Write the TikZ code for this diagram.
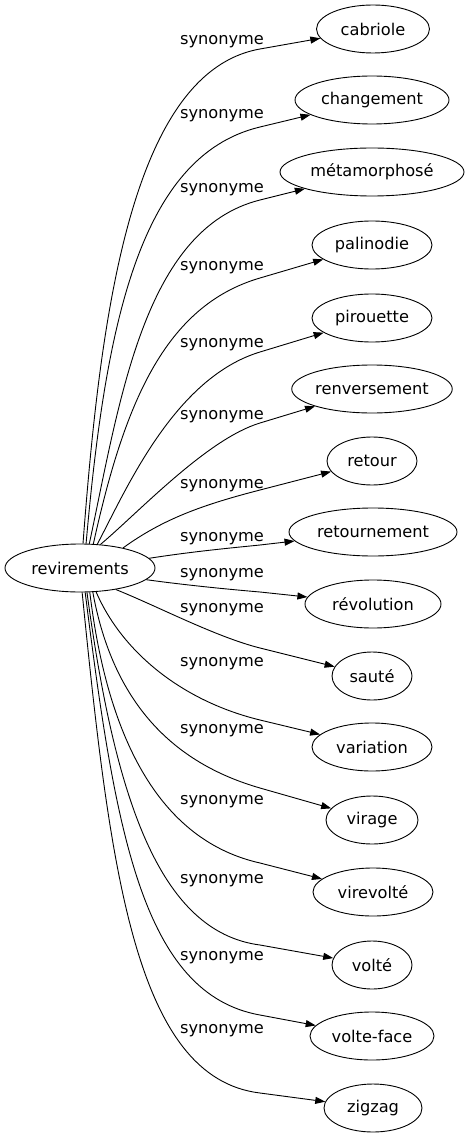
\documentclass[tikz,border=0pt]{standalone}
\usepackage{fontspec}
\setmainfont{DejaVu Sans}
\usetikzlibrary{shapes.geometric,arrows.meta}
\begin{document}
\begin{tikzpicture}[x=1pt,y=-1pt,
  every node/.style={font=\fontsize{16.2}{19}\selectfont},
  word/.style={draw,ellipse,inner sep=0pt,minimum height=48pt,line width=0.9pt},
  lbl/.style={inner sep=0pt},
  syn/.style={draw,line width=0.9pt,-{Triangle[length=10pt,width=7pt]}}]
\useasboundingbox (0,0) rectangle (471,1139);
\node[word,minimum width=150pt] (rev) at (80,568) {revirements};
\node[word,minimum width=113pt] (t1) at (373,29) {cabriole};
\node[word,minimum width=154pt] (t2) at (372,100) {changement};
\node[word,minimum width=184pt] (t3) at (372,172) {métamorphosé};
\node[word,minimum width=120pt] (t4) at (372,245) {palinodie};
\node[word,minimum width=120pt] (t5) at (372,318) {pirouette};
\node[word,minimum width=160pt] (t6) at (372,389) {renversement};
\node[word,minimum width=90pt] (t7) at (372,461) {retour};
\node[word,minimum width=168pt] (t8) at (373,532) {retournement};
\node[word,minimum width=136pt] (t9) at (373,604) {révolution};
\node[word,minimum width=80pt] (t10) at (372,676) {sauté};
\node[word,minimum width=120pt] (t11) at (372,747) {variation};
\node[word,minimum width=92pt] (t12) at (372,820) {virage};
\node[word,minimum width=120pt] (t13) at (373,892) {virevolté};
\node[word,minimum width=80pt] (t14) at (372,965) {volté};
\node[word,minimum width=124pt] (t15) at (372,1036) {volte-face};
\node[word,minimum width=98pt] (t16) at (373,1108) {zigzag};
\node[lbl] (l1) at (222,42) {synonyme};
\node[lbl] (l2) at (222,116) {synonyme};
\node[lbl] (l3) at (222,190) {synonyme};
\node[lbl] (l4) at (222,268) {synonyme};
\node[lbl] (l5) at (222,345) {synonyme};
\node[lbl] (l6) at (222,417) {synonyme};
\node[lbl] (l7) at (222,486) {synonyme};
\node[lbl] (l8) at (222,539) {synonyme};
\node[lbl] (l9) at (222,575) {synonyme};
\node[lbl] (l10) at (222,610) {synonyme};
\node[lbl] (l11) at (222,664) {synonyme};
\node[lbl] (l12) at (222,731) {synonyme};
\node[lbl] (l13) at (222,802) {synonyme};
\node[lbl] (l14) at (222,881) {synonyme};
\node[lbl] (l15) at (222,958) {synonyme};
\node[lbl] (l16) at (222,1031) {synonyme};
\draw[syn] (rev.83) .. controls (100,320) and (130,72) .. (260,49) -- (t1);
\draw[syn] (rev.76) .. controls (105,330) and (138,156) .. (260,127) -- (t2);
\draw[syn] (rev.69) .. controls (120,400) and (144,229) .. (260,200) -- (t3);
\draw[syn] (rev.61) .. controls (124,405) and (164,306) .. (260,278) -- (t4);
\draw[syn] (rev.54) .. controls (126,490) and (174,378) .. (260,352) -- (t5);
\draw[syn] (rev.49) .. controls (139,512) and (207,439) .. (260,423) -- (t6);
\draw[syn] (rev.25) .. controls (163,519) and (202,505) .. (260,490) -- (t7);
\draw[syn] (rev.8) .. controls (190,552) and (220,549) .. (260,545) -- (t8);
\draw[syn] (rev.-10) .. controls (185,585) and (225,589) .. (260,592) -- (t9);
\draw[syn] (rev.-31) .. controls (157,606) and (216,637) .. (260,648) -- (t10);
\draw[syn] (rev.-56) .. controls (122,652) and (182,701) .. (260,720) -- (t11);
\draw[syn] (rev.-62) .. controls (113,703) and (173,763) .. (260,788) -- (t12);
\draw[syn] (rev.-68) .. controls (108,743) and (162,841) .. (260,863) -- (t13);
\draw[syn] (rev.-74) .. controls (115,800) and (160,932) .. (260,945) -- (t14);
\draw[syn] (rev.-78) .. controls (115,830) and (142,994) .. (260,1015) -- (t15);
\draw[syn] (rev.-85) .. controls (110,870) and (135,1078) .. (260,1093) -- (t16);
\end{tikzpicture}
\end{document}
